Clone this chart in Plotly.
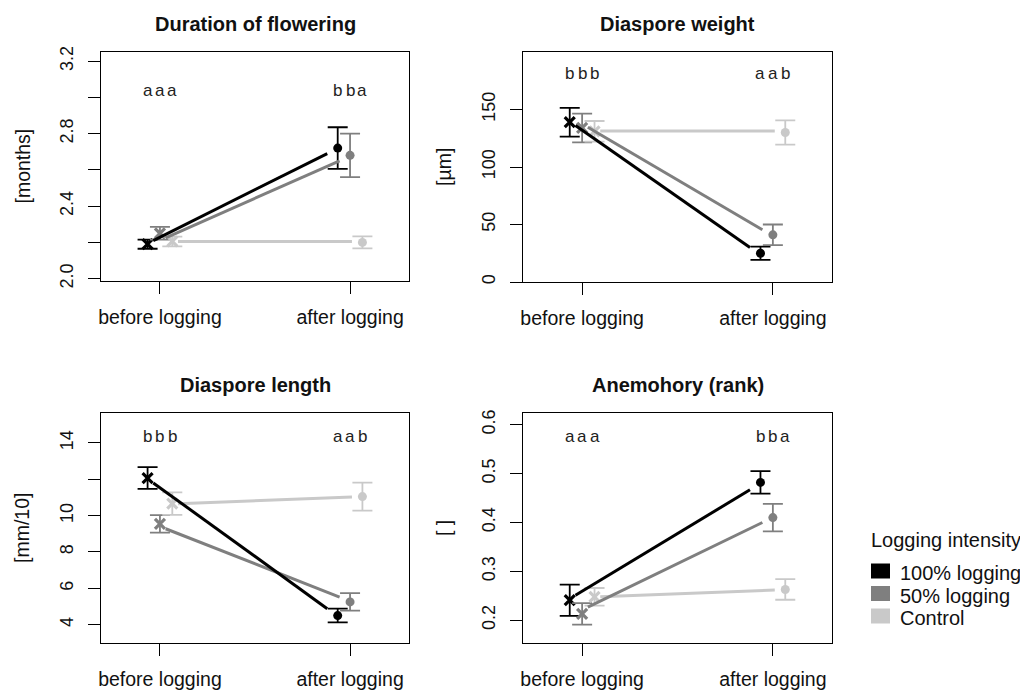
import plotly.graph_objects as go

# ---------------- data ----------------
groups = ["100% logging", "50% logging", "Control"]
periods = ["before logging", "after logging"]
legend_title = "Logging intensity"

panel_titles = ["Duration of flowering", "Diaspore weight", "Diaspore length", "Anemohory (rank)"]
y_titles = ["[months]", "[µm]", "[mm/10]", "[ ]"]

# means (per group) before and after logging
dur_before = [2.19, 2.25, 2.205]
dur_before_err = [0.025, 0.035, 0.027]
dur_after = [2.72, 2.68, 2.20]
dur_after_err = [0.115, 0.12, 0.033]
dur_fit_before = [2.21, 2.225, 2.205]
dur_fit_after = [2.69, 2.65, 2.205]

wt_before = [139, 134, 131]
wt_before_err = [12.5, 12.5, 9]
wt_after = [25, 41, 130]
wt_after_err = [5.7, 9, 10.5]
wt_fit_before = [136, 134.5, 131.2]
wt_fit_after = [30, 45.5, 131.2]

len_before = [12.07, 9.55, 10.66]
len_before_err = [0.6, 0.48, 0.62]
len_after = [4.5, 5.25, 11.05]
len_after_err = [0.38, 0.48, 0.77]
len_fit_before = [11.8, 9.28, 10.66]
len_fit_after = [4.88, 5.52, 11.03]

ane_before = [0.241, 0.213, 0.248]
ane_before_err = [0.032, 0.022, 0.018]
ane_after = [0.482, 0.41, 0.263]
ane_after_err = [0.023, 0.028, 0.021]
ane_fit_before = [0.251, 0.227, 0.248]
ane_fit_after = [0.467, 0.40, 0.262]

# significance letters
dur_letters_before = ["a", "a", "a"]
dur_letters_after = ["b", "b", "a"]
wt_letters_before = ["b", "b", "b"]
wt_letters_after = ["a", "a", "b"]
len_letters_before = ["b", "b", "b"]
len_letters_after = ["a", "a", "b"]
ane_letters_before = ["a", "a", "a"]
ane_letters_after = ["b", "b", "a"]
letter_y = [3.04, 181.5, 14.37, 0.576]

# y tick values / labels
dur_ticks = [2.0, 2.2, 2.4, 2.6, 2.8, 3.0, 3.2]
dur_ticklabels = ["2.0", "", "2.4", "", "2.8", "", "3.2"]
wt_ticks = [0, 50, 100, 150]
wt_ticklabels = ["0", "50", "100", "150"]
len_ticks = [4, 6, 8, 10, 12, 14]
len_ticklabels = ["4", "6", "8", "10", "", "14"]
ane_ticks = [0.2, 0.3, 0.4, 0.5, 0.6]
ane_ticklabels = ["0.2", "0.3", "0.4", "0.5", "0.6"]

y_ranges = [[1.987, 3.25], [0, 200], [2.99, 15.65], [0.1535, 0.624]]

# ---------------- styling ----------------
colors = ["#000000", "#7f7f7f", "#c9c9c9"]
offsets = [-0.065, 0.0, 0.065]
line_start_shift = 0.03
line_end_shift = -0.055
FONT = "Liberation Sans, Arial, sans-serif"
W, H = 1020, 690

# panel boxes in pixels: (left, right, top, bottom)
boxes = [(101, 409, 52, 281), (523, 832, 52, 282), (101, 409, 413, 643), (523, 832, 413, 643)]

panels = [
    (dur_before, dur_before_err, dur_after, dur_after_err, dur_fit_before, dur_fit_after,
     dur_letters_before, dur_letters_after, dur_ticks, dur_ticklabels),
    (wt_before, wt_before_err, wt_after, wt_after_err, wt_fit_before, wt_fit_after,
     wt_letters_before, wt_letters_after, wt_ticks, wt_ticklabels),
    (len_before, len_before_err, len_after, len_after_err, len_fit_before, len_fit_after,
     len_letters_before, len_letters_after, len_ticks, len_ticklabels),
    (ane_before, ane_before_err, ane_after, ane_after_err, ane_fit_before, ane_fit_after,
     ane_letters_before, ane_letters_after, ane_ticks, ane_ticklabels),
]

fig = go.Figure()
annotations = []
shapes = []
layout_axes = {}

for k, (pan, box) in enumerate(zip(panels, boxes)):
    (bm, be, am, ae, fb, fa, lb, la, ticks, ticklabels) = pan
    n = k + 1
    xa = "x" if n == 1 else f"x{n}"
    ya = "y" if n == 1 else f"y{n}"
    xkey = "xaxis" if n == 1 else f"xaxis{n}"
    ykey = "yaxis" if n == 1 else f"yaxis{n}"
    L, R, T, B = box

    for g in range(3):
        # before: cross markers
        fig.add_trace(go.Scatter(
            x=[1 + offsets[g]], y=[bm[g]], xaxis=xa, yaxis=ya, mode="markers",
            marker=dict(symbol="x-thin", size=10, color=colors[g],
                        line=dict(width=3.2, color=colors[g])),
            error_y=dict(type="data", array=[be[g]], color=colors[g], thickness=1.8, width=10),
            showlegend=False, hoverinfo="skip"))
        # after: filled circles
        fig.add_trace(go.Scatter(
            x=[2 + offsets[g]], y=[am[g]], xaxis=xa, yaxis=ya, mode="markers",
            marker=dict(symbol="circle", size=9, color=colors[g]),
            error_y=dict(type="data", array=[ae[g]], color=colors[g], thickness=1.8, width=10),
            showlegend=False, hoverinfo="skip"))
    for g in [2, 1, 0]:
        fig.add_trace(go.Scatter(
            x=[1 + offsets[g] + line_start_shift, 2 + offsets[g] + line_end_shift],
            y=[fb[g], fa[g]], xaxis=xa, yaxis=ya, mode="lines",
            line=dict(color=colors[g], width=3), showlegend=False, hoverinfo="skip"))

    # letters
    for g in range(3):
        annotations.append(dict(x=1 + offsets[g], y=letter_y[k], xref=xa, yref=ya, text=lb[g],
                                showarrow=False,
                                font=dict(family=FONT, size=17, color="#222222")))
        annotations.append(dict(x=2 + offsets[g], y=letter_y[k], xref=xa, yref=ya, text=la[g],
                                showarrow=False,
                                font=dict(family=FONT, size=17, color="#222222")))

    # panel title
    annotations.append(dict(x=(L + R) / 2 / W, y=1 - (T - 28) / H, xref="paper", yref="paper",
                            text=f"<b>{panel_titles[k]}</b>", showarrow=False,
                            xanchor="center", yanchor="middle",
                            font=dict(family=FONT, size=20, color="#111111")))
    # y title
    annotations.append(dict(x=(L - 79) / W, y=1 - ((T + B) / 2) / H, xref="paper", yref="paper",
                            text=y_titles[k], showarrow=False, textangle=-90,
                            xanchor="center", yanchor="middle",
                            font=dict(family=FONT, size=19.5, color="#111111")))

    layout_axes[xkey] = dict(domain=[L / W, R / W], anchor=ya, range=[0.69, 2.31],
                             tickmode="array", tickvals=[1, 2], ticktext=periods,
                             ticks="outside", ticklen=12, tickwidth=1.3, tickcolor="#000",
                             showline=True, linecolor="#000", linewidth=1.3, mirror=True,
                             showgrid=False, zeroline=False, ticklabelstandoff=6,
                             automargin=False,
                             tickfont=dict(family=FONT, size=19.5, color="#111111"))
    layout_axes[ykey] = dict(domain=[1 - B / H, 1 - T / H], anchor=xa, range=y_ranges[k],
                             tickmode="array", tickvals=ticks, ticktext=ticklabels,
                             tickangle=-90,
                             ticks="outside", ticklen=12, tickwidth=1.3, tickcolor="#000",
                             showline=True, linecolor="#000", linewidth=1.3, mirror=True,
                             showgrid=False, zeroline=False, ticklabelstandoff=8,
                             automargin=False,
                             tickfont=dict(family=FONT, size=18, color="#111111"))

# legend (manual)
annotations.append(dict(x=869 / W, y=1 - 540 / H, xref="paper", yref="paper", text=legend_title,
                        showarrow=False, xanchor="left", yanchor="middle",
                        font=dict(family=FONT, size=20, color="#111111")))
for g, name in enumerate(groups):
    cy = 571 + g * 22.5
    shapes.append(dict(type="rect", xref="paper", yref="paper",
                       x0=871 / W, x1=890 / W, y0=1 - (cy + 7.5) / H, y1=1 - (cy - 7.5) / H,
                       fillcolor=colors[g], line=dict(width=0)))
    annotations.append(dict(x=898 / W, y=1 - (cy + 2) / H, xref="paper", yref="paper", text=name,
                            showarrow=False, xanchor="left", yanchor="middle",
                            font=dict(family=FONT, size=20, color="#111111")))

fig.update_layout(width=W, height=H, margin=dict(l=0, r=0, t=0, b=0),
                  paper_bgcolor="white", plot_bgcolor="white",
                  annotations=annotations, shapes=shapes, showlegend=False,
                  **layout_axes)

fig.write_html("out.html")
